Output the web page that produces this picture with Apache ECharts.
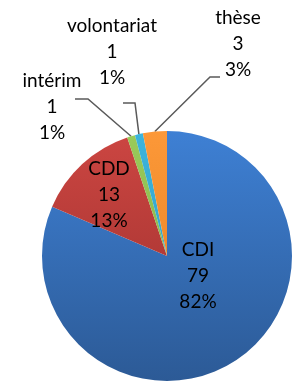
<!DOCTYPE html>
<html>
<head>
<meta charset="utf-8">
<script src="https://cdn.jsdelivr.net/npm/echarts@6/dist/echarts.min.js"></script>
<style>
  html, body { margin: 0; padding: 0; background: #fff; }
  #chart { width: 294px; height: 385px; }
</style>
</head>
<body>
<div id="chart"></div>
<script>
// categories and values, clockwise from 12 o'clock
var categories = ['CDI', 'CDD', 'intérim', 'volontariat', 'thèse'];
var values = [79, 13, 1, 1, 3];

// colours: [top, bottom] of the vertical shading
var sliceColors = [
    ['#3E80D4', '#2C5A96'],
    ['#CC4642', '#9A2E2B'],
    ['#9ACB5A', '#7FA844'],
    ['#3CB4DC', '#2C97BD'],
    ['#FC9838', '#E27E1E']
];

// where each label block sits (center) and how its leader line bends
var labelSpots = {
    'CDI':         { at: [198, 276] },
    'CDD':         { at: [109, 195] },
    'intérim':     { at: [52, 107],  elbow: [88, 99],  end: [75, 99] },
    'volontariat': { at: [112, 52],  elbow: [135, 103], end: [123, 103] },
    'thèse':       { at: [238, 44],  elbow: [210, 77], end: [220, 77] }
};

var cx = 167, cy = 256, r = 125;

function shade(c) {
    return new echarts.graphic.LinearGradient(0, cy - r, 0, cy + r, [
        { offset: 0, color: c[0] },
        { offset: 1, color: c[1] }
    ], true);
}

var data = [];
for (var i = 0; i < categories.length; i++) {
    var inside = !!(labelSpots[categories[i]] && !labelSpots[categories[i]].elbow);
    data.push({
        name: categories[i],
        value: values[i],
        itemStyle: { color: shade(sliceColors[i]) },
        label: { position: inside ? 'inside' : 'outside' },
        labelLine: { show: !inside }
    });
}

var myChart = echarts.init(document.getElementById('chart'));
var option = {
    animation: false,
    series: [{
        type: 'pie',
        center: [cx, cy],
        radius: r,
        startAngle: 90,
        clockwise: true,
        avoidLabelOverlap: false,
        percentPrecision: 0,
        data: data,
        itemStyle: { borderWidth: 0 },
        label: {
            formatter: '{b}\n{c}\n{d}%',
            fontFamily: 'Lato',
            fontSize: 19,
            lineHeight: 26,
            color: '#000',
            align: 'center'
        },
        labelLine: {
            lineStyle: { color: '#5a5a5a', width: 1.5 }
        },
        labelLayout: function (params) {
            var spot = labelSpots[categories[params.dataIndex]];
            var out = { x: spot.at[0], y: spot.at[1], align: 'center', verticalAlign: 'middle' };
            if (spot.elbow && params.labelLinePoints) {
                var start = params.labelLinePoints[0];
                out.labelLinePoints = [[start[0], start[1]], spot.elbow, spot.end];
            }
            return out;
        }
    }]
};
myChart.setOption(option);
</script>
</body>
</html>
